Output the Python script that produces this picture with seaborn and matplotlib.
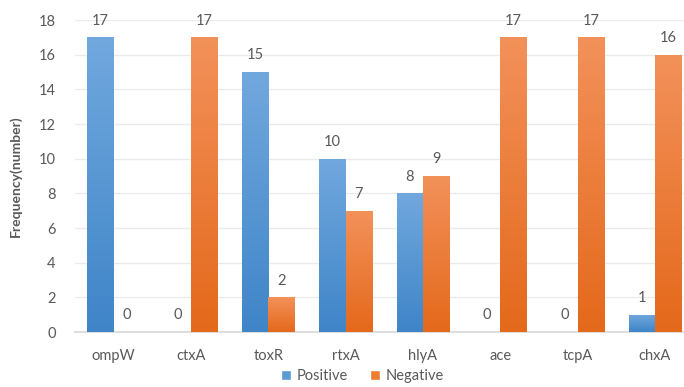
import numpy as np
import pandas as pd
import matplotlib
matplotlib.use("Agg")
import matplotlib.pyplot as plt
import matplotlib.colors as mcolors
from matplotlib.patches import Patch
import seaborn as sns

genes = ["ompW", "ctxA", "toxR", "rtxA", "hlyA", "ace", "tcpA", "chxA"]
positive = [17, 0, 15, 10, 8, 0, 0, 1]
negative = [0, 17, 2, 7, 9, 17, 17, 16]
series = ["Positive", "Negative"]
yticks = [0, 2, 4, 6, 8, 10, 12, 14, 16, 18]

df = pd.DataFrame({
    "gene": genes * 2,
    "value": positive + negative,
    "series": ["Positive"] * len(genes) + ["Negative"] * len(genes),
})

sns.set_theme(style="white")
plt.rcParams["font.family"] = ["Lato", "DejaVu Sans"]
txt = "#595959"

fig = plt.figure(figsize=(6.84, 3.87), dpi=100)
ax = fig.add_axes([75 / 684, (387 - 332) / 387, (684 - 75) / 684, (332 - 20) / 387])

palette = {"Positive": "#5b9bd5", "Negative": "#ed7d31"}
sns.barplot(data=df, x="gene", y="value", hue="series", hue_order=series,
            palette=palette, width=0.68, gap=0, ax=ax, legend=False,
            saturation=1, edgecolor="none", zorder=3)

grad = {
    "Positive": ("#71a8de", "#3f85c8"),
    "Negative": ("#f3915a", "#e4691b"),
}

for i, cont in enumerate(ax.containers):
    name = series[i]
    top_c, bot_c = grad[name]
    cmap = mcolors.LinearSegmentedColormap.from_list(name, [bot_c, top_c])
    for bar, val in zip(cont, positive if i == 0 else negative):
        x0 = bar.get_x()
        w = bar.get_width()
        h = bar.get_height()
        if h > 0:
            bar.set_alpha(0)
            im = ax.imshow(np.linspace(0, 1, 100).reshape(-1, 1), cmap=cmap,
                           extent=[x0, x0 + w, 0, h], origin="lower",
                           aspect="auto", zorder=3, interpolation="bicubic")
            rect = plt.Rectangle((x0, 0), w, h, transform=ax.transData)
            im.set_clip_path(rect)
        ax.annotate(f"{val}", (x0 + w / 2, h), xytext=(0, 7),
                    textcoords="offset points", ha="center", va="bottom",
                    fontsize=10.5, color=txt)

ax.set_aspect("auto")
ax.set_xlim(-0.5, 7 + 29 / 77.3)
ax.set_ylim(0, 18)
ax.set_yticks(yticks)
ax.yaxis.grid(True, color="#ebebeb", linewidth=1, zorder=0)
ax.set_axisbelow(True)
for s in ["top", "right", "left"]:
    ax.spines[s].set_visible(False)
ax.spines["bottom"].set_color("#d9d9d9")
ax.tick_params(axis="both", length=0, labelsize=10.5, colors=txt)
ax.tick_params(axis="x", pad=12)
ax.tick_params(axis="y", pad=14)
ax.set_xlabel("")
ax.set_ylabel("Frequency(number)", fontsize=10, color=txt, fontweight="bold")
ax.yaxis.set_label_coords(-0.087, 0.5)

handles = [Patch(facecolor=palette[s], label=s) for s in series]
fig.legend(handles=handles, loc="center", bbox_to_anchor=(0.53, 0.028), ncol=2,
           frameon=False, fontsize=10.5, labelcolor=txt, handlelength=0.7,
           handleheight=0.7, columnspacing=1.5, handletextpad=0.4)

fig.savefig("out.png", dpi=100)
